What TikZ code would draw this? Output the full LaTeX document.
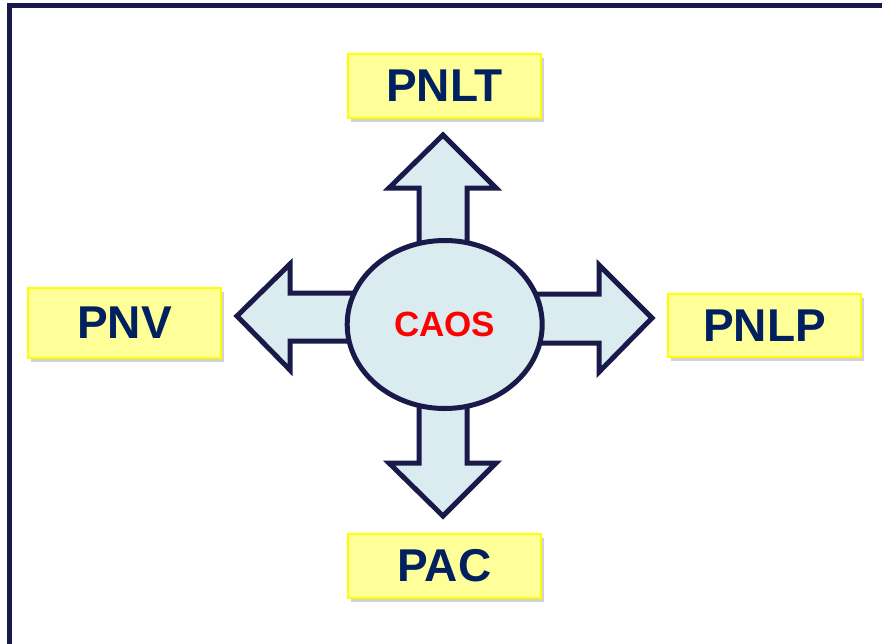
\documentclass[tikz,border=0pt]{standalone}
\usepackage{fontspec}
\setmainfont{Liberation Sans}
\usetikzlibrary{shapes.geometric,shadows}
\definecolor{navy}{HTML}{1A1A4A}
\definecolor{textnavy}{HTML}{002060}
\definecolor{boxfill}{HTML}{FFFF99}
\definecolor{boxedge}{HTML}{FFFF00}
\definecolor{arrowfill}{HTML}{DAECEF}
\tikzset{
  labelbox/.style={draw=boxedge, line width=2pt, fill=boxfill, minimum width=193pt,
    inner sep=0pt, font=\fontsize{46}{50}\selectfont\bfseries, text=textnavy,
    drop shadow={shadow xshift=3pt, shadow yshift=-4pt, opacity=0.35, fill=gray}},
  blockarrow/.style={draw=navy, line width=5pt, fill=arrowfill, line join=miter},
  hub/.style={ellipse, draw=navy, line width=5pt, fill=arrowfill, minimum width=195pt,
    minimum height=168pt, inner sep=0pt, text=red, font=\fontsize{35}{40}\selectfont\bfseries},
  frame/.style={draw=navy, line width=5pt}
}
\begin{document}
\begin{tikzpicture}[x=1pt, y=-1pt]
\useasboundingbox (0,0) rectangle (882,643);
\begin{scope}
\clip (0,0) rectangle (882,643);
\draw[frame] (9.8,5.8) rectangle (920,700);
\end{scope}
% block arrows
\draw[blockarrow] (400,293) -- (290,293) -- (290,264) -- (237,316) -- (290,370) -- (290,341) -- (400,341) -- cycle;
\draw[blockarrow] (490,294) -- (599,294) -- (599,265) -- (652,318) -- (599,372) -- (599,343) -- (490,343) -- cycle;
\draw[blockarrow] (419,300) -- (419,188) -- (389,188) -- (443,135) -- (496,188) -- (467,188) -- (467,300) -- cycle;
\draw[blockarrow] (419,350) -- (419,463) -- (389,463) -- (443,516) -- (496,463) -- (467,463) -- (467,350) -- cycle;
% hub
\node[hub] (caos) at (444.7,324.5) {CAOS};
% boxes
\node[labelbox, minimum height=64pt] (pnlt) at (444.5,86) {PNLT};
\node[labelbox, minimum height=63pt] (pnlp) at (764.5,325.5) {PNLP};
\node[labelbox, minimum height=70pt] (pnv) at (124.5,323) {PNV};
\node[labelbox, minimum height=64pt] (pac) at (444.5,566) {PAC};
\end{tikzpicture}
\end{document}
